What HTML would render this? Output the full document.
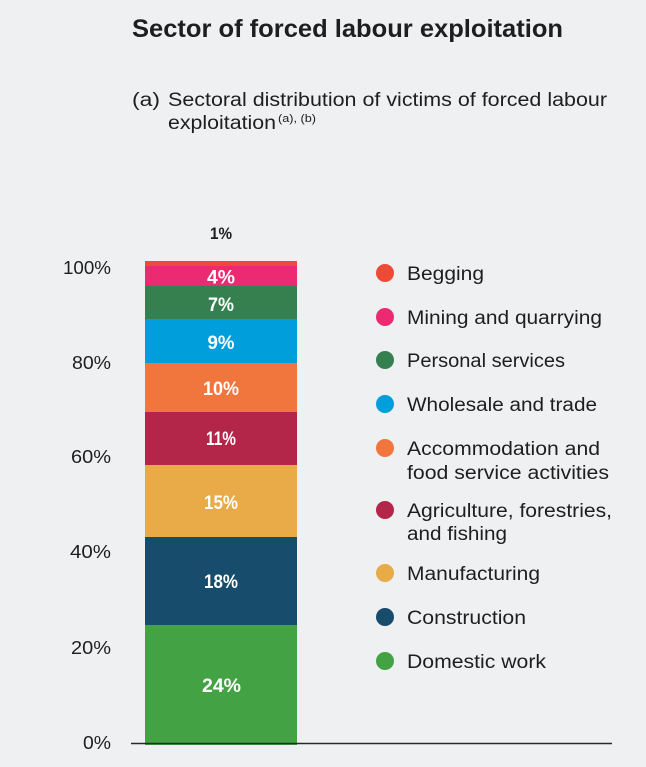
<!DOCTYPE html>
<html>
<head>
<meta charset="utf-8">
<style>
  html, body { margin:0; padding:0; background:#eff0f2; }
  svg { display:block; }
  text { font-family: "Liberation Sans", "DejaVu Sans", sans-serif; }
</style>
</head>
<body>
<svg width="646" height="767" viewBox="0 0 646 767" xmlns="http://www.w3.org/2000/svg">
  <rect x="0" y="0" width="646" height="767" fill="#eff0f2"/>

  <!-- Title -->
  <text x="132" y="37" font-size="25" font-weight="bold" fill="#1e1e1e" textLength="431" lengthAdjust="spacingAndGlyphs">Sector of forced labour exploitation</text>

  <!-- Subtitle -->
  <text x="132" y="106" font-size="19" fill="#1e1e1e" textLength="28" lengthAdjust="spacingAndGlyphs">(a)</text>
  <text x="168" y="106" font-size="19" fill="#1e1e1e" textLength="439" lengthAdjust="spacingAndGlyphs">Sectoral distribution of victims of forced labour</text>
  <text x="168" y="129" font-size="19" fill="#1e1e1e" textLength="108" lengthAdjust="spacingAndGlyphs">exploitation</text>
  <text x="278" y="122" font-size="11" fill="#1e1e1e" textLength="38" lengthAdjust="spacingAndGlyphs">(a), (b)</text>

  <!-- Y axis labels -->
  <g font-size="18" fill="#1e1e1e">
    <text x="63" y="274" textLength="48" lengthAdjust="spacingAndGlyphs">100%</text>
    <text x="72" y="369" textLength="39" lengthAdjust="spacingAndGlyphs">80%</text>
    <text x="71" y="463" textLength="40" lengthAdjust="spacingAndGlyphs">60%</text>
    <text x="70" y="558" textLength="41" lengthAdjust="spacingAndGlyphs">40%</text>
    <text x="71" y="654" textLength="40" lengthAdjust="spacingAndGlyphs">20%</text>
    <text x="83" y="749" textLength="28" lengthAdjust="spacingAndGlyphs">0%</text>
  </g>

  <!-- Bar segments -->
  <rect x="145" y="261" width="152" height="5" fill="#ee4b36"/>
  <rect x="145" y="266" width="152" height="20" fill="#ec2a72"/>
  <rect x="145" y="286" width="152" height="33" fill="#36804f"/>
  <rect x="145" y="319" width="152" height="44" fill="#009fdb"/>
  <rect x="145" y="363" width="152" height="49" fill="#f0763e"/>
  <rect x="145" y="412" width="152" height="53" fill="#b3264a"/>
  <rect x="145" y="465" width="152" height="72" fill="#e8ab47"/>
  <rect x="145" y="537" width="152" height="88" fill="#174c6c"/>
  <rect x="145" y="625" width="152" height="120" fill="#43a244"/>

  <!-- Axis line -->
  <line x1="131" y1="743.5" x2="612" y2="743.5" stroke="#2a2a2a" stroke-width="1.5"/>

  <!-- Bar labels -->
  <text x="210" y="239" font-size="17" font-weight="bold" fill="#1e1e1e" textLength="22" lengthAdjust="spacingAndGlyphs">1%</text>
  <g font-size="19" font-weight="bold" fill="#ffffff">
    <text x="207" y="283.5" textLength="28" lengthAdjust="spacingAndGlyphs">4%</text>
    <text x="208" y="311" textLength="26" lengthAdjust="spacingAndGlyphs">7%</text>
    <text x="207.5" y="349" textLength="27" lengthAdjust="spacingAndGlyphs">9%</text>
    <text x="203" y="395" textLength="36" lengthAdjust="spacingAndGlyphs">10%</text>
    <text x="206" y="445" textLength="30" lengthAdjust="spacingAndGlyphs">11%</text>
    <text x="204" y="509" textLength="34" lengthAdjust="spacingAndGlyphs">15%</text>
    <text x="204" y="588" textLength="34" lengthAdjust="spacingAndGlyphs">18%</text>
    <text x="202" y="692" textLength="39" lengthAdjust="spacingAndGlyphs">24%</text>
  </g>

  <!-- Legend -->
  <g>
    <circle cx="385" cy="273" r="9" fill="#ee4b36"/>
    <circle cx="385" cy="317" r="9" fill="#ec2a72"/>
    <circle cx="385" cy="360" r="9" fill="#36804f"/>
    <circle cx="385" cy="404" r="9" fill="#009fdb"/>
    <circle cx="385" cy="448" r="9" fill="#f0763e"/>
    <circle cx="385" cy="510" r="9" fill="#b3264a"/>
    <circle cx="385" cy="573" r="9" fill="#e8ab47"/>
    <circle cx="385" cy="617" r="9" fill="#174c6c"/>
    <circle cx="385" cy="661" r="9" fill="#43a244"/>
  </g>
  <g font-size="19" fill="#1e1e1e">
    <text x="407" y="280" textLength="77" lengthAdjust="spacingAndGlyphs">Begging</text>
    <text x="407" y="324" textLength="195" lengthAdjust="spacingAndGlyphs">Mining and quarrying</text>
    <text x="407" y="367" textLength="158" lengthAdjust="spacingAndGlyphs">Personal services</text>
    <text x="407" y="411" textLength="190" lengthAdjust="spacingAndGlyphs">Wholesale and trade</text>
    <text x="407" y="455" textLength="193" lengthAdjust="spacingAndGlyphs">Accommodation and</text>
    <text x="407" y="479" textLength="202" lengthAdjust="spacingAndGlyphs">food service activities</text>
    <text x="407" y="517" textLength="205" lengthAdjust="spacingAndGlyphs">Agriculture, forestries,</text>
    <text x="407" y="540" textLength="100" lengthAdjust="spacingAndGlyphs">and fishing</text>
    <text x="407" y="580" textLength="133" lengthAdjust="spacingAndGlyphs">Manufacturing</text>
    <text x="407" y="624" textLength="119" lengthAdjust="spacingAndGlyphs">Construction</text>
    <text x="407" y="668" textLength="139" lengthAdjust="spacingAndGlyphs">Domestic work</text>
  </g>
</svg>
</body>
</html>
